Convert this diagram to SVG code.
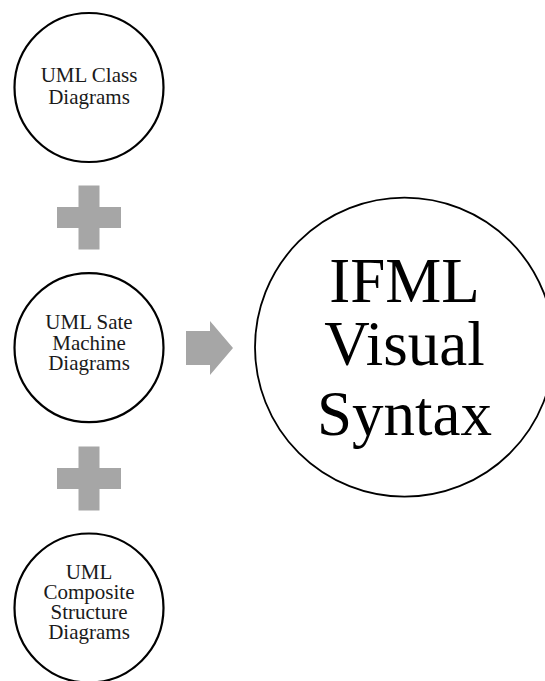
<svg xmlns="http://www.w3.org/2000/svg" width="545" height="681" viewBox="0 0 545 681">
  <style>
    .node { fill: #ffffff; stroke: #000000; stroke-width: 2.2; }
    .big { fill: #ffffff; stroke: #000000; stroke-width: 1.8; }
    .label { font-family: "Liberation Serif", "Times New Roman", serif; font-size: 21px; fill: #1a1a1a; text-anchor: middle; }
    .title { font-family: "Liberation Serif", "Times New Roman", serif; font-size: 63px; fill: #000000; text-anchor: middle; }
    .shape { fill: #a6a6a6; }
  </style>
  <defs>
    <path id="plus" d="M-10.5,-32 h21 v21.5 h21.5 v21 h-21.5 v21.5 h-21 v-21.5 h-21.5 v-21 h21.5 z"/>
  </defs>
  <rect width="545" height="681" fill="#ffffff"/>

  <g id="connectors">
    <use href="#plus" class="shape" transform="translate(89,217.5)"/>
    <use href="#plus" class="shape" transform="translate(89,478.5)"/>
    <path class="shape" d="M186,331 H210 V321 L233,348 L210,375 V365 H186 Z"/>
  </g>

  <g id="uml-class">
    <circle class="node" cx="89" cy="87.5" r="74.5"/>
    <text class="label" x="89" y="82">UML Class</text>
    <text class="label" x="89" y="103.5">Diagrams</text>
  </g>

  <g id="uml-state-machine">
    <circle class="node" cx="89" cy="347.7" r="74.5"/>
    <text class="label" x="89" y="329">UML Sate</text>
    <text class="label" x="89" y="349.5">Machine</text>
    <text class="label" x="89" y="370">Diagrams</text>
  </g>

  <g id="uml-composite-structure">
    <circle class="node" cx="89" cy="608" r="74.5"/>
    <text class="label" x="89" y="579">UML</text>
    <text class="label" x="89" y="598.5">Composite</text>
    <text class="label" x="89" y="618.5">Structure</text>
    <text class="label" x="89" y="638.5">Diagrams</text>
  </g>

  <g id="ifml-visual-syntax">
    <circle class="big" cx="404.5" cy="347.2" r="149.5"/>
    <text class="title" x="404.5" y="301.5">IFML</text>
    <text class="title" x="404.5" y="365">Visual</text>
    <text class="title" x="404.5" y="434.5">Syntax</text>
  </g>
</svg>
